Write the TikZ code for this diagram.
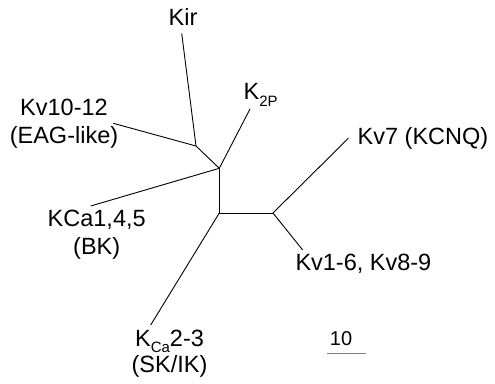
\documentclass[tikz,border=0pt]{standalone}
\usepackage{fontspec}
\setmainfont{Liberation Sans}
\begin{document}
\begin{tikzpicture}[x=1pt,y=-1pt,
  branch/.style={draw=black,line width=0.9pt},
  lbl/.style={inner sep=0pt,anchor=base,font=\fontsize{23.5}{28}\selectfont},
  lblw/.style={lbl,anchor=base west},
  scalebar/.style={draw=black!50,line width=1.5pt},
  scaletext/.style={inner sep=0pt,anchor=base,font=\fontsize{20}{24}\selectfont}]
\useasboundingbox (0,0) rectangle (495,383);
% internal vertices
\coordinate (A) at (196,146);
\coordinate (B) at (219.3,168.3);
\coordinate (C) at (219.3,213);
\coordinate (D) at (273,213);
% leaf ends
\coordinate (kirE) at (181.7,33.3);
\coordinate (k2pE) at (250,109);
\coordinate (kv10E) at (113.3,123.3);
\coordinate (kca1E) at (90.7,206);
\coordinate (kca2E) at (150.7,325);
\coordinate (kv7E) at (348.3,138.3);
\coordinate (kv1E) at (302.7,250);
% branches
\draw[branch] (kirE) -- (A);
\draw[branch] (kv10E) -- (A);
\draw[branch] (A) -- (B);
\draw[branch] (k2pE) -- (B);
\draw[branch] (kca1E) -- (B);
\draw[branch] (B) -- (C);
\draw[branch] (kca2E) -- (C);
\draw[branch] (C) -- (D);
\draw[branch] (kv7E) -- (D);
\draw[branch] (kv1E) -- (D);
% labels
\node[lbl] (kir) at (183,25.7) {Kir};
\node[lblw] (k2p) at (243.5,99) {K\raisebox{-7pt}{\fontsize{15}{15}\selectfont 2P}};
\node[lbl] (kv10a) at (64,115) {Kv10-12};
\node[lbl] (kv10b) at (64,143.3) {(EAG-like)};
\node[lbl] (kca1a) at (96.7,226.7) {KCa1,4,5};
\node[lbl] (kca1b) at (96.7,254.5) {(BK)};
\node[lbl] (kca2a) at (169.5,346.7) {K\raisebox{-5.5pt}{\fontsize{15}{15}\selectfont Ca}2-3};
\node[lbl] (kca2b) at (169.5,372.5) {(SK/IK)};
\node[lblw] (kv7) at (357.5,144.3) {Kv7 (KCNQ)};
\node[lblw] (kv1) at (295.3,270.7) {Kv1-6, Kv8-9};
% scale bar
\coordinate (sbL) at (326.7,353.3);
\coordinate (sbR) at (366,353.3);
\draw[scalebar] (sbL) -- (sbR);
\node[scaletext] (sbt) at (341,345) {10};
\end{tikzpicture}
\end{document}
